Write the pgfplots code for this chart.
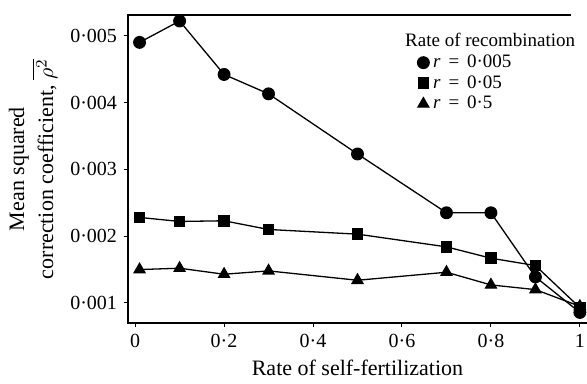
\documentclass[border=0pt]{standalone}
\usepackage{fontspec}
\setmainfont{Liberation Serif}
\usepackage{pgfplots}
\pgfplotsset{compat=1.18}
\begin{document}
\begin{tikzpicture}
\begin{axis}[
  scale only axis, width=229.5pt, height=154pt,
  xmin=-0.016, xmax=1.016, ymin=0.0007, ymax=0.00531,
  axis line style={draw=none},
  xtick pos=left, ytick pos=left, tick align=outside,
  major tick length=2pt,
  tick style={line width=0.5pt, black},
  xtick={0,0.2,0.4,0.6,0.8,1},
  xticklabels={0,0·2,0·4,0·6,0·8,1},
  ytick={0.001,0.002,0.003,0.004,0.005},
  yticklabels={0·001,0·002,0·003,0·004,0·005},
  scaled ticks=false,
  tick label style={font=\fontsize{10}{12}\selectfont},
  xlabel={Rate of self-fertilization},
  ylabel={Mean squared\\correction coefficient, $\overline{\rho^{2}}$},
  label style={font=\fontsize{11}{14.5}\selectfont},
  xlabel style={at={(rel axis cs:0.5,0)}, anchor=center, yshift=-22.5pt},
  ylabel style={align=center, at={(rel axis cs:0,0.5)}, anchor=center, yshift=47.5pt},
  legend style={at={(rel axis cs:0.63,0.885)}, anchor=north west, draw=none, fill=none,
    font=\fontsize{9.5}{11}\selectfont, legend cell align=left, row sep=-1.5pt,
    inner sep=0pt},
  every axis plot/.append style={line width=0.65pt, black},
  clip=false,
]
\addplot[mark=*, mark size=2.9pt, forget plot] coordinates {
 (0.01,0.0049)(0.1,0.00522)(0.2,0.00442)(0.3,0.00413)(0.5,0.00323)(0.7,0.00235)(0.8,0.00235)(0.9,0.00139)(1.0,0.000858)};
\addplot[mark=square*, mark size=2.6pt, forget plot] coordinates {
 (0.01,0.00228)(0.1,0.00222)(0.2,0.00223)(0.3,0.0021)(0.5,0.00203)(0.7,0.00184)(0.8,0.00167)(0.9,0.00156)(1.0,0.00093)};
\addplot[mark=triangle*, mark size=3.1pt, forget plot] coordinates {
 (0.01,0.0015)(0.1,0.00152)(0.2,0.00143)(0.3,0.00148)(0.5,0.00134)(0.7,0.00146)(0.8,0.00127)(0.9,0.0012)(1.0,0.00095)};
\addlegendimage{only marks, mark=*, mark size=2.9pt, black}
\addlegendentry{\textit{r}\ \,=\ \,0·005}
\addlegendimage{only marks, mark=square*, mark size=2.6pt, black}
\addlegendentry{\textit{r}\ \,=\ \,0·05}
\addlegendimage{only marks, mark=triangle*, mark size=3.1pt, black}
\addlegendentry{\textit{r}\ \,=\ \,0·5}
\node[anchor=base west, font=\fontsize{9.5}{11}\selectfont, inner sep=0pt] at (rel axis cs:0.603,0.897) {Rate of recombination};
\draw[line width=0.7pt] (rel axis cs:0.965,1) -- (rel axis cs:0,1) -- (rel axis cs:0,0) -- (rel axis cs:1,0);
\end{axis}
\pgfresetboundingbox
\path (current axis.south west) ++(-64pt,-30pt) coordinate (bl);
\path (current axis.north east) ++(0pt,7.5pt) coordinate (tr);
\path[use as bounding box] (bl) rectangle (tr);
\end{tikzpicture}
\end{document}
